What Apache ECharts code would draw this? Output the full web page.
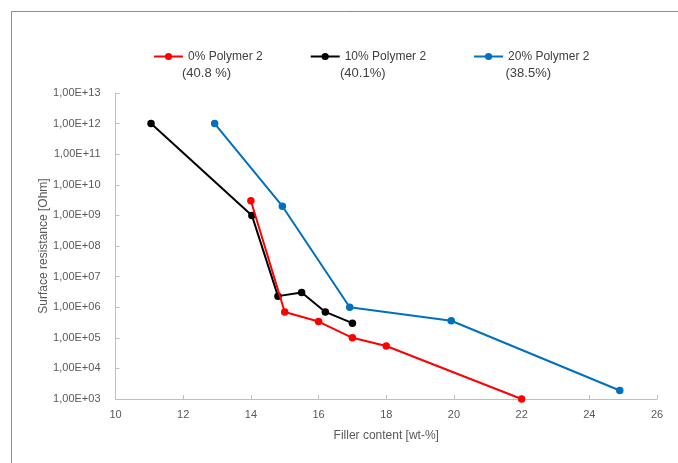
<!DOCTYPE html>
<html>
<head>
<meta charset="utf-8">
<script src="https://cdn.jsdelivr.net/npm/echarts@6/dist/echarts.min.js"></script>
<style>
  html, body { margin: 0; padding: 0; background: #ffffff; }
  #chart { width: 678px; height: 463px; }
</style>
</head>
<body>
<div id="chart"></div>
<script>
// Surface resistance vs. filler content for three polymer blends
const seriesNames = ['0% Polymer 2', '10% Polymer 2', '20% Polymer 2'];
const seriesNotes = ['(40.8 %)', '(40.1%)', '(38.5%)'];
const seriesColors = ['#ff0000', '#000000', '#0070c0'];

// [filler content wt-%, surface resistance Ohm]
const polymer0 = [[14, 3e9], [15, 7e5], [16, 3.4e5], [17, 1e5], [18, 5.4e4], [22, 1e3]];
const polymer10 = [[11.05, 1e12], [14.03, 1e9], [14.8, 2.3e6], [15.5, 3e6], [16.2, 7e5], [17, 3e5]];
const polymer20 = [[12.93, 1e12], [14.93, 2e9], [16.92, 1e6], [19.92, 3.6e5], [24.9, 1.9e3]];

const xTicks = { min: 10, max: 26, interval: 2 };
const yTicks = { min: 1e3, max: 1e13 };

const seriesData = [polymer0, polymer10, polymer20];

const chart = echarts.init(document.getElementById('chart'), null, { renderer: 'canvas' });

const fontFamily = "'Liberation Sans', Arial, sans-serif";
const axisGray = '#bfbfbf';
const labelGray = '#595959';

// Excel-style scientific label, e.g. 1,00E+05
function sciLabel(v) {
  const e = Math.round(Math.log10(v));
  return '1,00E+' + (e < 10 ? '0' : '') + e;
}

// Second legend line placed under each legend name
const noteLeft = [182, 340, 505.5];
const noteGraphics = seriesNotes.map((t, i) => ({
  type: 'text',
  left: noteLeft[i],
  top: 67,
  style: { text: t, fill: '#404040', font: '13px ' + fontFamily }
}));

chart.setOption({
  animation: false,
  backgroundColor: '#ffffff',
  graphic: [
    {
      type: 'rect',
      shape: { x: 11.5, y: 11.5, width: 1000, height: 1000 },
      style: { fill: 'none', stroke: '#8c8c8c', lineWidth: 1 },
      silent: true
    }
  ].concat(noteGraphics),
  legend: {
    left: 153,
    top: 50.5,
    padding: 0,
    itemWidth: 29,
    itemHeight: 9,
    itemGap: 47,
    textStyle: { color: '#404040', fontSize: 12, fontFamily: fontFamily },
    data: seriesNames
  },
  grid: { left: 115.5, right: 21, top: 93, bottom: 64 },
  xAxis: {
    type: 'value',
    min: xTicks.min,
    max: xTicks.max,
    interval: xTicks.interval,
    name: 'Filler content [wt-%]',
    nameLocation: 'middle',
    nameGap: 31,
    nameMoveOverlap: false,
    nameTextStyle: { color: labelGray, fontSize: 12, fontFamily: fontFamily },
    axisLine: { show: true, lineStyle: { color: axisGray, width: 1 } },
    axisTick: { show: true, inside: true, length: 4, lineStyle: { color: axisGray } },
    axisLabel: { color: labelGray, fontSize: 11, fontFamily: fontFamily, margin: 10 },
    splitLine: { show: false }
  },
  yAxis: {
    type: 'log',
    logBase: 10,
    min: yTicks.min,
    max: yTicks.max,
    interval: 1,
    name: 'Surface resistance [Ohm]',
    nameLocation: 'middle',
    nameRotate: 90,
    nameGap: 66,
    nameMoveOverlap: false,
    nameTextStyle: { color: labelGray, fontSize: 12, fontFamily: fontFamily },
    axisLine: { show: true, lineStyle: { color: axisGray, width: 1 } },
    axisTick: { show: true, inside: true, length: 4, lineStyle: { color: axisGray } },
    axisLabel: { color: labelGray, fontSize: 11, fontFamily: fontFamily, margin: 15, formatter: sciLabel },
    splitLine: { show: false },
    minorTick: { show: false }
  },
  series: seriesNames.map((name, i) => ({
    name: name,
    type: 'line',
    data: seriesData[i],
    symbol: 'circle',
    symbolSize: 7.5,
    color: seriesColors[i],
    lineStyle: { color: seriesColors[i], width: 2 },
    itemStyle: { color: seriesColors[i] },
    z: 3 - i
  }))
});
</script>
</body>
</html>
